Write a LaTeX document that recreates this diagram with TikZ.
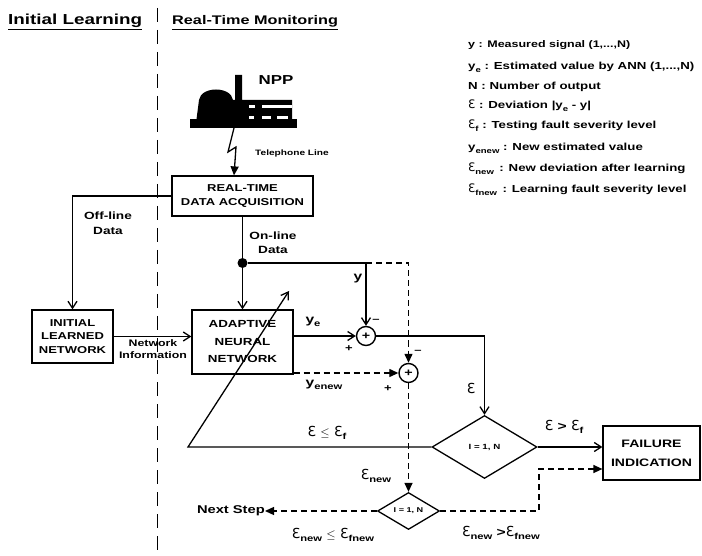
\documentclass[tikz,border=0pt]{standalone}
\usepackage{fontspec}
\setmainfont{Liberation Sans}[FakeStretch=1.3]
\newfontfamily\epsfont{DejaVu Sans}
\usetikzlibrary{shapes.geometric,arrows.meta,calc}
\newcommand\eps{\scalebox{1.15}{\epsfont\mdseries\char"0190}}
\newcommand\sbs[1]{\raisebox{-0.45ex}{\scalebox{0.72}{#1}}}
\tikzset{
  box/.style={draw, line width=1.2pt, align=center, inner sep=0pt},
  summer/.style={circle, draw, line width=1.4pt, minimum size=19pt, inner sep=0pt, font=\bfseries\fontsize{11}{11}\selectfont},
  dia/.style={diamond, draw, line width=1.3pt, inner sep=0pt},
  ln/.style={line width=1.3pt},
  dl/.style={line width=1.3pt, dash pattern=on 6pt off 4pt},
  oarr/.style={-{Straight Barb[length=7pt,width=9pt,line width=1.3pt]}},
  farr/.style={-{Triangle[length=9pt,width=8pt]}},
  lbl/.style={inner sep=0pt, font=\bfseries\fontsize{10}{12}\selectfont},
  leg/.style={inner sep=0pt, anchor=base west, font=\bfseries\fontsize{10.2}{12}\selectfont},
  sgn/.style={inner sep=0pt, font=\bfseries\fontsize{10}{10}\selectfont},
}
\begin{document}
\begin{tikzpicture}[x=1pt,y=-1pt]
\useasboundingbox[fill=white] (0,0) rectangle (702,556);

% headers and separator
\node[inner sep=0pt, anchor=base west, font=\bfseries\fontsize{14.5}{16}\selectfont] (hl) at (8,25) {\underline{Initial Learning}};
\node[inner sep=0pt, anchor=base west, font=\bfseries\fontsize{12.5}{15}\selectfont] (hr) at (172,25) {\underline{Real-Time Monitoring}};
\draw[line width=0.9pt, dash pattern=on 14pt off 8pt] (157,8) -- (157,556);

% legend
\node[leg, font=\bfseries\fontsize{9.6}{12}\selectfont] (l1) at (468,48) {y : Measured signal (1,...,N)};
\node[leg] (l2) at (468,70) {y\sbs{e} : Estimated value by ANN (1,...,N)};
\node[leg] (l3) at (468,90) {N : Number of output};
\node[leg] (l4) at (468,109) {\eps{} : Deviation |y\sbs{e} - y|};
\node[leg] (l5) at (468,129) {\eps\sbs{f} : Testing fault severity level};
\node[leg] (l6) at (468,151) {y\sbs{enew} : New estimated value};
\node[leg] (l7) at (468,172) {\eps\sbs{new} \,: New deviation after learning};
\node[leg] (l8) at (468,193) {\eps\sbs{fnew} \,: Learning fault severity level};

% NPP plant
\fill[black] (196,123) -- (199,100) .. controls (201,86) and (231,86) .. (233,100) -- (235,100) -- (235,75) -- (242,75) -- (242,100) -- (248,100) -- (292,100) -- (292,124) -- (196,124) -- cycle;
\fill[black] (190,119) rectangle (297,128);
\fill[white] (262,105.5) rectangle (292,108.5);
\fill[white] (249,105.5) rectangle (255,108.5);
\fill[white] (249,116) rectangle (254,119);
\fill[white] (262,116) rectangle (271,119);
\fill[white] (277,116) rectangle (288,119);
\node[inner sep=0pt, font=\bfseries\fontsize{13}{15}\selectfont] (npp) at (276,80) {NPP};
\coordinate (plant) at (234,128);

% boxes
\node[box, minimum width=141pt, minimum height=40pt, font=\bfseries\fontsize{10}{14}\selectfont] (acq) at (242.5,196) {REAL-TIME\\DATA ACQUISITION};
\node[box, minimum width=81pt, minimum height=53pt, font=\bfseries\fontsize{10}{13.5}\selectfont] (init) at (72.5,336.5) {INITIAL\\LEARNED\\NETWORK};
\node[box, minimum width=101pt, minimum height=64pt, font=\bfseries\fontsize{10.3}{17.5}\selectfont] (ann) at (242.5,342) {ADAPTIVE\\NEURAL\\NETWORK};
\node[box, minimum width=97pt, minimum height=54pt, font=\bfseries\fontsize{10.8}{19}\selectfont] (fail) at (651.5,453) {FAILURE\\INDICATION};
\node[summer] (s1) at (366,336) {+};
\node[summer] (s2) at (408.5,373) {+};
\node[dia, minimum width=105pt, minimum height=63pt, font=\bfseries\fontsize{7.5}{8}\selectfont] (d1) at (484.5,447) {I = 1, N};
\node[dia, minimum width=62pt, minimum height=37pt, font=\bfseries\fontsize{7}{7}\selectfont] (d2) at (408.5,511) {I = 1, N};
\node[circle, fill=black, minimum size=10pt, inner sep=0pt] (dot) at (242.5,263) {};
\node[lbl, anchor=east, font=\bfseries\fontsize{11.3}{12}\selectfont] (next) at (265,511) {Next Step};
\coordinate (adj) at (188,447);
\coordinate (adjtip) at (289,291);

% telephone line
\draw[ln, -{Triangle[length=9pt,width=8pt]}] (plant) -- (228,152) -- (236,147) -- (plant |- acq.north);
\node[lbl, font=\bfseries\fontsize{7.8}{9}\selectfont] (tel) at (292,153) {Telephone Line};

% solid connectors
\draw[ln, oarr] (acq.west) -- (acq.west -| init) -- (init.north);
\draw[ln] (acq.south) -- (dot);
\draw[ln, oarr] (dot) -- (ann.north);
\draw[ln, oarr] (init.east) -- (init.east -| ann.west);
\draw[ln, oarr] (dot) -- (dot -| s1) -- (s1.north);
\draw[ln, oarr] (ann.east |- s1) -- (s1.west);
\draw[ln, oarr] (s1.east) -- (s1 -| d1) -- (d1.north);
\draw[ln, oarr] (d1.west) -- (adj) -- (adjtip);
\draw[ln, oarr] (d1.east) -- (d1.east -| fail.west);

% dashed connectors
\draw[dl, farr] (dot -| s1) -- (dot -| s2) -- (s2.north);
\draw[dl, farr] (ann.east |- s2) -- (s2.west);
\draw[dl, farr] (s2.south) -- (d2.north);
\draw[dl, farr] (d2.west) -- (next.east);
\draw[dl, farr] (d2.east) -- (539,511) -- (539,469) -- (fail.west |- 0,469);

% labels
\node[lbl, align=center, font=\bfseries\fontsize{10.5}{15}\selectfont] (offl) at (108,223) {Off-line\\Data};
\node[lbl, align=center, font=\bfseries\fontsize{10.5}{14}\selectfont] (onl) at (273,243) {On-line\\Data};
\node[lbl, align=center, font=\bfseries\fontsize{9.5}{12}\selectfont] (netinf) at (153,349) {Network\\Information};
\node[lbl, font=\bfseries\fontsize{12}{12}\selectfont] (ly) at (358,279) {y};
\node[lbl, font=\bfseries\fontsize{12}{12}\selectfont] (lye) at (313,322) {y\sbs{e}};
\node[lbl, font=\bfseries\fontsize{12}{12}\selectfont] (lyn) at (324,385) {y\sbs{enew}};
\node[sgn] (m1) at (376,321) {--};
\node[sgn] (p1) at (349,349) {+};
\node[sgn] (m2) at (418,352) {--};
\node[sgn] (p2) at (388,389) {+};
\node[lbl, font=\bfseries\fontsize{12}{12}\selectfont] (le) at (471,388) {\eps};
\node[lbl, font=\bfseries\fontsize{12}{12}\selectfont] (lle) at (327,433) {\eps{} $\le$ \eps\sbs{f}};
\node[lbl, font=\bfseries\fontsize{12}{12}\selectfont] (lgt) at (564,427) {\eps{} > \eps\sbs{f}};
\node[lbl, font=\bfseries\fontsize{12}{12}\selectfont] (len) at (376,476) {\eps\sbs{new}};
\node[lbl, font=\bfseries\fontsize{12}{12}\selectfont] (llen) at (333,535) {\eps\sbs{new} $\le$ \eps\sbs{fnew}};
\node[lbl, font=\bfseries\fontsize{12}{12}\selectfont] (lgtn) at (501,533) {\eps\sbs{new} >\eps\sbs{fnew}};
\end{tikzpicture}
\end{document}
